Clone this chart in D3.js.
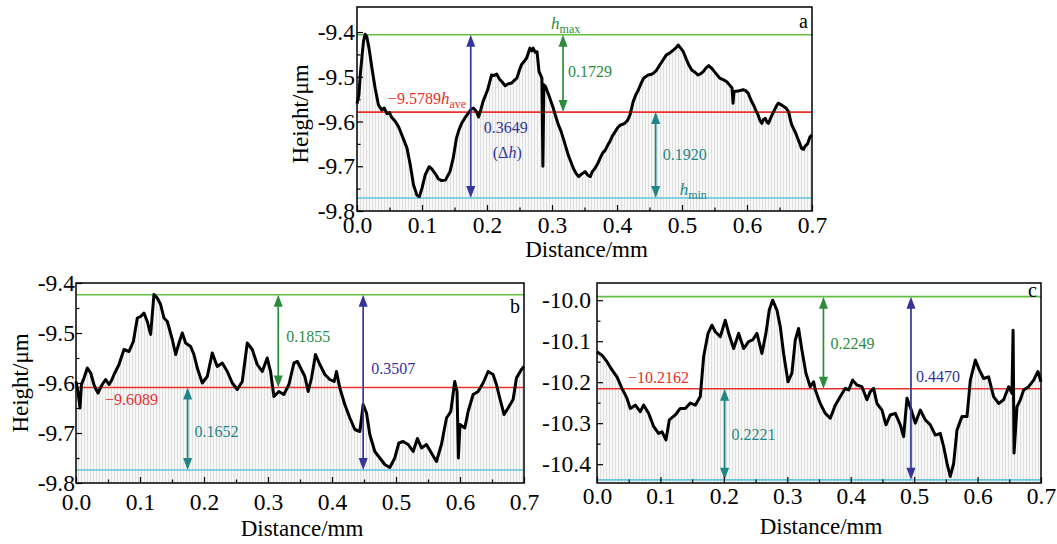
<!DOCTYPE html>
<html><head><meta charset="utf-8">
<script src="https://cdn.jsdelivr.net/npm/d3@7"></script>
<style>
body{margin:0;background:#fff}
svg{display:block}
text{font-family:"Liberation Serif","Times New Roman",serif}
</style>
</head><body>
<svg id="chart" width="1057" height="544"></svg>
<script>
// ---------------- DATA ----------------
const xTicks = [0, 0.1, 0.2, 0.3, 0.4, 0.5, 0.6, 0.7];
const xMinorTicks = [0.05, 0.15, 0.25, 0.35, 0.45, 0.55, 0.65];
const xTickLabels = ["0.0","0.1","0.2","0.3","0.4","0.5","0.6","0.7"];

const yTicksAB = [-9.4, -9.5, -9.6, -9.7, -9.8];
const yMinorAB = [-9.45, -9.55, -9.65, -9.75];
const yTickLabelsAB = ["-9.4","-9.5","-9.6","-9.7","-9.8"];
const yTicksC = [-10.0, -10.1, -10.2, -10.3, -10.4];
const yMinorC = [-10.05, -10.15, -10.25, -10.35];
const yTickLabelsC = ["-10.0","-10.1","-10.2","-10.3","-10.4"];

const panelNames = ["a", "b", "c"];
const hMax = [-9.4060, -9.4234, -9.9913];
const hAve = [-9.5789, -9.6089, -10.2162];
const hMin = [-9.7709, -9.7741, -10.4383];
const aveLabels = ["\u22129.5789", "\u22129.6089", "\u221210.2162"];
const upperDiffLabels = ["0.1729", "0.1855", "0.2249"];
const lowerDiffLabels = ["0.1920", "0.1652", "0.2221"];
const totalDiffLabels = ["0.3649", "0.3507", "0.4470"];

const distA = [0.000,0.003,0.005,0.008,0.010,0.0125,0.015,0.0185,0.023,0.028,0.033,0.038,0.042,0.046,0.050,0.053,0.059,0.064,0.069,0.073,0.077,0.082,0.087,0.092,0.096,0.100,0.105,0.111,0.115,0.118,0.122,0.125,0.130,0.136,0.143,0.148,0.153,0.157,0.161,0.166,0.171,0.176,0.179,0.184,0.187,0.190,0.194,0.201,0.207,0.211,0.215,0.219,0.223,0.228,0.232,0.238,0.242,0.246,0.250,0.253,0.257,0.261,0.266,0.269,0.271,0.274,0.277,0.280,0.2845,0.2860,0.2875,0.290,0.294,0.302,0.306,0.310,0.314,0.318,0.322,0.325,0.329,0.333,0.337,0.341,0.345,0.351,0.355,0.359,0.362,0.366,0.370,0.374,0.378,0.382,0.386,0.389,0.393,0.397,0.401,0.405,0.409,0.412,0.416,0.420,0.425,0.429,0.433,0.437,0.441,0.448,0.452,0.456,0.461,0.466,0.471,0.476,0.481,0.487,0.491,0.494,0.498,0.502,0.507,0.511,0.515,0.520,0.525,0.529,0.533,0.537,0.541,0.545,0.548,0.553,0.558,0.564,0.569,0.573,0.577,0.5785,0.5800,0.586,0.594,0.598,0.602,0.606,0.610,0.614,0.617,0.620,0.623,0.625,0.628,0.631,0.633,0.637,0.641,0.645,0.648,0.652,0.656,0.660,0.664,0.667,0.669,0.673,0.676,0.680,0.684,0.687,0.689,0.693,0.697,0.700];
const heightA = [-9.560,-9.540,-9.496,-9.450,-9.421,-9.405,-9.410,-9.436,-9.481,-9.526,-9.563,-9.574,-9.570,-9.582,-9.580,-9.590,-9.600,-9.612,-9.630,-9.645,-9.660,-9.697,-9.742,-9.764,-9.768,-9.749,-9.719,-9.701,-9.706,-9.712,-9.720,-9.728,-9.732,-9.731,-9.712,-9.682,-9.637,-9.618,-9.604,-9.592,-9.582,-9.572,-9.570,-9.578,-9.590,-9.576,-9.555,-9.529,-9.496,-9.497,-9.494,-9.505,-9.511,-9.520,-9.516,-9.514,-9.508,-9.503,-9.485,-9.473,-9.466,-9.458,-9.436,-9.442,-9.436,-9.445,-9.444,-9.488,-9.503,-9.700,-9.518,-9.522,-9.537,-9.570,-9.590,-9.608,-9.622,-9.641,-9.660,-9.675,-9.690,-9.705,-9.716,-9.723,-9.718,-9.712,-9.720,-9.723,-9.712,-9.705,-9.695,-9.682,-9.670,-9.664,-9.652,-9.645,-9.632,-9.623,-9.614,-9.608,-9.606,-9.604,-9.598,-9.585,-9.555,-9.540,-9.529,-9.515,-9.503,-9.496,-9.495,-9.492,-9.485,-9.473,-9.462,-9.451,-9.447,-9.440,-9.435,-9.429,-9.436,-9.444,-9.462,-9.475,-9.485,-9.490,-9.496,-9.493,-9.488,-9.480,-9.475,-9.480,-9.485,-9.494,-9.503,-9.507,-9.511,-9.518,-9.525,-9.559,-9.533,-9.532,-9.529,-9.531,-9.537,-9.552,-9.563,-9.576,-9.585,-9.598,-9.604,-9.596,-9.593,-9.602,-9.604,-9.590,-9.578,-9.566,-9.559,-9.562,-9.566,-9.570,-9.578,-9.598,-9.608,-9.620,-9.630,-9.645,-9.660,-9.662,-9.656,-9.650,-9.634,-9.630];

const distB = [0.000,0.003,0.0063,0.0085,0.0125,0.0177,0.023,0.028,0.031,0.0344,0.038,0.041,0.0463,0.0516,0.0555,0.0594,0.0672,0.071,0.075,0.0828,0.0896,0.0958,0.101,0.1062,0.1114,0.1166,0.1218,0.127,0.1322,0.1374,0.1427,0.1505,0.1557,0.1609,0.1661,0.1713,0.1791,0.1843,0.1895,0.1973,0.2051,0.2129,0.2207,0.2286,0.2364,0.2442,0.252,0.2598,0.2676,0.2754,0.2832,0.291,0.2988,0.304,0.3092,0.317,0.3248,0.3327,0.3405,0.346,0.3498,0.3576,0.3628,0.368,0.3742,0.381,0.3889,0.3966,0.4034,0.407,0.4122,0.42,0.4279,0.4357,0.4435,0.4487,0.4539,0.4591,0.4669,0.4747,0.4825,0.4903,0.4981,0.5044,0.5111,0.519,0.5268,0.5335,0.5398,0.5476,0.5554,0.5632,0.571,0.5789,0.5856,0.5918,0.5954,0.5975,0.6000,0.6075,0.6127,0.6205,0.6283,0.6361,0.6439,0.6517,0.6569,0.6621,0.6689,0.6752,0.683,0.6882,0.696,0.700];
const heightB = [-9.597,-9.617,-9.650,-9.603,-9.590,-9.570,-9.580,-9.603,-9.612,-9.620,-9.610,-9.603,-9.593,-9.603,-9.595,-9.583,-9.563,-9.548,-9.533,-9.537,-9.517,-9.470,-9.467,-9.460,-9.477,-9.503,-9.423,-9.430,-9.443,-9.470,-9.477,-9.513,-9.543,-9.520,-9.500,-9.520,-9.527,-9.543,-9.570,-9.600,-9.587,-9.540,-9.567,-9.560,-9.577,-9.600,-9.613,-9.597,-9.520,-9.533,-9.563,-9.577,-9.550,-9.577,-9.627,-9.617,-9.623,-9.603,-9.560,-9.557,-9.567,-9.587,-9.617,-9.590,-9.543,-9.563,-9.583,-9.593,-9.597,-9.577,-9.610,-9.643,-9.670,-9.693,-9.697,-9.643,-9.660,-9.703,-9.737,-9.750,-9.763,-9.769,-9.750,-9.720,-9.717,-9.723,-9.737,-9.711,-9.730,-9.723,-9.740,-9.757,-9.723,-9.670,-9.657,-9.597,-9.617,-9.750,-9.683,-9.690,-9.657,-9.623,-9.617,-9.600,-9.577,-9.583,-9.603,-9.630,-9.663,-9.650,-9.633,-9.590,-9.573,-9.567];

const distC = [0.000,0.0078,0.0157,0.0236,0.0315,0.0393,0.0472,0.0525,0.0604,0.0682,0.0735,0.0814,0.0893,0.0971,0.1024,0.1087,0.114,0.1234,0.1313,0.1392,0.1471,0.155,0.1628,0.1681,0.175,0.1812,0.1865,0.1944,0.2022,0.2085,0.2154,0.2233,0.2312,0.239,0.2453,0.2522,0.26,0.2663,0.2716,0.2769,0.2837,0.289,0.2942,0.3011,0.3073,0.3126,0.3178,0.3231,0.3294,0.3362,0.3415,0.3442,0.352,0.3599,0.3678,0.3757,0.3836,0.3915,0.3967,0.403,0.4098,0.4177,0.4256,0.4309,0.4361,0.4414,0.4493,0.4556,0.4624,0.4703,0.4782,0.4834,0.4887,0.4955,0.5018,0.5097,0.5176,0.5255,0.5334,0.5412,0.5465,0.5518,0.557,0.5623,0.5675,0.5754,0.5833,0.5886,0.5965,0.6027,0.6096,0.6174,0.6253,0.6332,0.6411,0.649,0.6542,0.6560,0.6575,0.6621,0.6674,0.6726,0.6805,0.6884,0.6952,0.700];
const heightC = [-10.126,-10.134,-10.150,-10.170,-10.187,-10.215,-10.239,-10.264,-10.256,-10.272,-10.256,-10.276,-10.308,-10.325,-10.321,-10.341,-10.292,-10.280,-10.264,-10.264,-10.251,-10.256,-10.235,-10.138,-10.081,-10.061,-10.077,-10.089,-10.049,-10.085,-10.118,-10.081,-10.118,-10.101,-10.097,-10.081,-10.130,-10.081,-10.024,-10.000,-10.024,-10.065,-10.130,-10.199,-10.178,-10.097,-10.069,-10.122,-10.178,-10.211,-10.199,-10.219,-10.252,-10.276,-10.288,-10.256,-10.235,-10.215,-10.219,-10.195,-10.207,-10.211,-10.243,-10.223,-10.215,-10.252,-10.268,-10.304,-10.280,-10.276,-10.304,-10.333,-10.239,-10.268,-10.300,-10.268,-10.292,-10.304,-10.329,-10.325,-10.357,-10.398,-10.430,-10.398,-10.317,-10.284,-10.284,-10.195,-10.146,-10.170,-10.191,-10.187,-10.235,-10.252,-10.243,-10.211,-10.227,-10.073,-10.373,-10.260,-10.243,-10.219,-10.211,-10.195,-10.174,-10.199];

// ---------------- DRAWING ----------------
const COL = {
  greenLine: "#62c043", green: "#2b8c3c",
  red: "#e8312a",
  cyanLine: "#62c6d8", teal: "#1e8686",
  navy: "#34349a"
};

const svg = d3.select("#chart");
const defs = svg.append("defs");
const pat = defs.append("pattern").attr("id","hatch").attr("patternUnits","userSpaceOnUse")
  .attr("width",3).attr("height",10);
pat.append("rect").attr("width",3).attr("height",10).attr("fill","#f8f8f8");
pat.append("line").attr("x1",0.5).attr("x2",0.5).attr("y1",0).attr("y2",10)
  .attr("stroke","#dedede").attr("stroke-width",1);

const panels = [
  { i:0, dist:distA, h:heightA, left:357, right:812, top:7, bottom:211,
    yDomain:[-9.8,-9.344], yTicks:yTicksAB, yMinor:yMinorAB, yLabels:yTickLabelsAB,
    xPad:5, yPad:2, yTitle:{x:308,y:114}, xTitleY:257,
    arrowUp:0.317, arrowTot:0.175, arrowLow:0.4595 },
  { i:1, dist:distB, h:heightB, left:76, right:524, top:283, bottom:483,
    yDomain:[-9.8,-9.4], yTicks:yTicksAB, yMinor:yMinorAB, yLabels:yTickLabelsAB,
    xPad:10, yPad:1, yTitle:{x:28,y:383}, xTitleY:536,
    arrowUp:0.316, arrowTot:0.4487, arrowLow:0.1744 },
  { i:2, dist:distC, h:heightC, left:597, right:1041, top:283, bottom:483,
    yDomain:[-10.446,-9.958], yTicks:yTicksC, yMinor:yMinorC, yLabels:yTickLabelsC,
    xPad:4, yPad:6, yTitle:null, xTitleY:534,
    arrowUp:0.357, arrowTot:0.495, arrowLow:0.2012 }
];

function arrow(g, x, ya, yb, color){
  const y1 = Math.min(ya,yb), y2 = Math.max(ya,yb), hl = 12, hw = 4.5;
  g.append("line").attr("x1",x).attr("x2",x).attr("y1",y1+hl-2).attr("y2",y2-hl+2)
    .attr("stroke",color).attr("stroke-width",1.7);
  g.append("path").attr("d",`M${x},${y1}L${x-hw},${y1+hl}L${x+hw},${y1+hl}Z`).attr("fill",color);
  g.append("path").attr("d",`M${x},${y2}L${x-hw},${y2-hl}L${x+hw},${y2-hl}Z`).attr("fill",color);
}

function txt(g, x, y, s, color, size, anchor){
  return g.append("text").attr("x",x).attr("y",y).attr("fill",color)
    .attr("font-size",size).attr("text-anchor",anchor||"start").text(s);
}

panels.forEach(p => {
  const k = p.i;
  const x = d3.scaleLinear().domain([0,0.7]).range([p.left,p.right]);
  const y = d3.scaleLinear().domain(p.yDomain).range([p.bottom,p.top]);
  const g = svg.append("g");
  const data = p.dist.map((d,j)=>({d:d, v:p.h[j]}));

  g.append("path").datum(data)
    .attr("d", d3.area().x(d=>x(d.d)).y0(p.bottom).y1(d=>y(d.v)))
    .attr("fill","url(#hatch)");

  [[hMax[k],COL.greenLine],[hMin[k],COL.cyanLine],[hAve[k],COL.red]].forEach(([v,c])=>{
    g.append("line").attr("x1",p.left).attr("x2",p.right).attr("y1",y(v)).attr("y2",y(v))
      .attr("stroke",c).attr("stroke-width",1.6);
  });

  g.append("path").datum(data)
    .attr("d", d3.line().x(d=>x(d.d)).y(d=>y(d.v)))
    .attr("fill","none").attr("stroke","#000").attr("stroke-width",3)
    .attr("stroke-linejoin","round");

  const yMax = y(hMax[k]), yAve = y(hAve[k]), yMin = y(hMin[k]);
  arrow(g, x(p.arrowUp), yMax, yAve, COL.green);
  arrow(g, x(p.arrowTot), yMax, yMin, COL.navy);
  arrow(g, x(p.arrowLow), yAve, yMin, COL.teal);

  const xAxis = g.append("g").attr("transform",`translate(0,${p.bottom})`)
    .call(d3.axisBottom(x).tickValues(xTicks).tickSize(-6).tickPadding(p.xPad)
      .tickFormat((d,j)=>xTickLabels[j]));
  const xMinor = g.append("g").attr("transform",`translate(0,${p.bottom})`)
    .call(d3.axisBottom(x).tickValues(xMinorTicks).tickSize(-3.5).tickFormat(""));
  const yAxis = g.append("g").attr("transform",`translate(${p.left},0)`)
    .call(d3.axisLeft(y).tickValues(p.yTicks).tickSize(-6).tickPadding(p.yPad)
      .tickFormat((d,j)=>p.yLabels[j]));
  const yMinor = g.append("g").attr("transform",`translate(${p.left},0)`)
    .call(d3.axisLeft(y).tickValues(p.yMinor).tickSize(-3.5).tickFormat(""));
  [xAxis,xMinor,yAxis,yMinor].forEach(a=>{
    a.select(".domain").remove();
    a.selectAll("line").attr("stroke","#000").attr("stroke-width",1.2);
    a.selectAll("text").attr("font-family","'Liberation Serif',serif").attr("font-size",23.5).attr("fill","#000");
  });

  g.append("rect").attr("x",p.left).attr("y",p.top).attr("width",p.right-p.left)
    .attr("height",p.bottom-p.top).attr("fill","none").attr("stroke","#000").attr("stroke-width",1.5);

  txt(g, (p.left+p.right)/2+2, p.xTitleY, "Distance/mm", "#000", 23, "middle");
  if (p.yTitle){
    g.append("text").attr("transform",`translate(${p.yTitle.x},${p.yTitle.y}) rotate(-90)`)
      .attr("text-anchor","middle").attr("font-size",23).attr("fill","#000").text("Height/\u03bcm");
  }

  txt(g, p.right-4, p.top + (k===0?21:(k===1?30:14)), panelNames[k], "#000", 20, "end");
});

// ---- annotation labels ----
(function(){
  const P = panels;
  function scales(p){
    return { x:d3.scaleLinear().domain([0,0.7]).range([p.left,p.right]),
             y:d3.scaleLinear().domain(p.yDomain).range([p.bottom,p.top]) };
  }
  const g = svg.append("g");
  let s = scales(P[0]);
  let t = txt(g, 388, s.y(hAve[0])-8, aveLabels[0], COL.red, 16);
  t.append("tspan").attr("font-style","italic").attr("font-size",17).text("h");
  t.append("tspan").attr("font-size",12).attr("dy",4).text("ave");
  t = txt(g, s.x(P[0].arrowUp)-12, s.y(hMax[0])-6, "", COL.green, 17);
  t.append("tspan").attr("font-style","italic").text("h");
  t.append("tspan").attr("font-size",12).attr("dy",4).text("max");
  t = txt(g, s.x(P[0].arrowLow)+24, s.y(hMin[0])-3, "", COL.teal, 17);
  t.append("tspan").attr("font-style","italic").text("h");
  t.append("tspan").attr("font-size",12).attr("dy",4).text("min");
  txt(g, s.x(P[0].arrowUp)+5, (s.y(hMax[0])+s.y(hAve[0]))/2+4, upperDiffLabels[0], COL.green, 16);
  txt(g, s.x(P[0].arrowLow)+7, (s.y(hAve[0])+s.y(hMin[0]))/2+5, lowerDiffLabels[0], COL.teal, 16);
  txt(g, s.x(P[0].arrowTot)+13, (s.y(hMax[0])+s.y(hMin[0]))/2+17, totalDiffLabels[0], COL.navy, 16);
  t = txt(g, s.x(P[0].arrowTot)+22, (s.y(hMax[0])+s.y(hMin[0]))/2+42, "(\u0394", COL.navy, 16);
  t.append("tspan").attr("font-style","italic").text("h");
  t.append("tspan").text(")");

  s = scales(P[1]);
  txt(g, 105, s.y(hAve[1])+18, aveLabels[1], COL.red, 16);
  txt(g, s.x(P[1].arrowUp)+8, (s.y(hMax[1])+s.y(hAve[1]))/2+1, upperDiffLabels[1], COL.green, 16);
  txt(g, s.x(P[1].arrowLow)+7, (s.y(hAve[1])+s.y(hMin[1]))/2+8, lowerDiffLabels[1], COL.teal, 16);
  txt(g, s.x(P[1].arrowTot)+8, (s.y(hMax[1])+s.y(hMin[1]))/2-8, totalDiffLabels[1], COL.navy, 16);

  s = scales(P[2]);
  txt(g, 628, s.y(hAve[2])-6, aveLabels[2], COL.red, 16);
  txt(g, s.x(P[2].arrowUp)+7, (s.y(hMax[2])+s.y(hAve[2]))/2+6, upperDiffLabels[2], COL.green, 16);
  txt(g, s.x(P[2].arrowLow)+7, (s.y(hAve[2])+s.y(hMin[2]))/2+6, lowerDiffLabels[2], COL.teal, 16);
  txt(g, s.x(P[2].arrowTot)+5, (s.y(hMax[2])+s.y(hMin[2]))/2-6, totalDiffLabels[2], COL.navy, 16);
})();
</script>
</body></html>
